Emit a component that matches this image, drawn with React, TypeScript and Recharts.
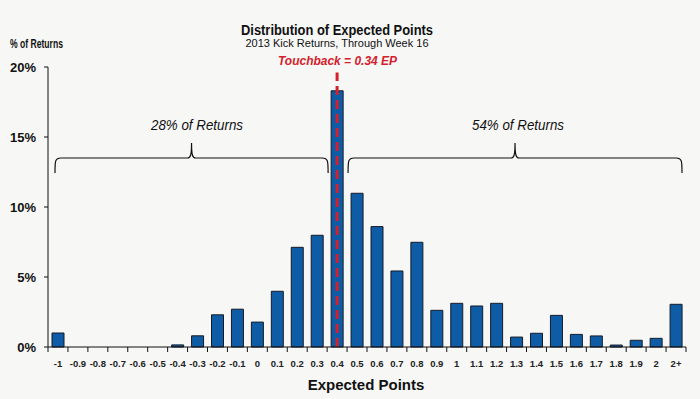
import { BarChart, Bar, XAxis, YAxis, ReferenceLine, Customized } from 'recharts';

const categories = [
  '-1', '-0.9', '-0.8', '-0.7', '-0.6', '-0.5', '-0.4', '-0.3', '-0.2', '-0.1',
  '0', '0.1', '0.2', '0.3', '0.4', '0.5', '0.6', '0.7', '0.8', '0.9',
  '1', '1.1', '1.2', '1.3', '1.4', '1.5', '1.6', '1.7', '1.8', '1.9', '2', '2+',
];

const pctReturns = [
  1.0, 0, 0, 0, 0, 0, 0.15, 0.8, 2.3, 2.7,
  1.78, 3.98, 7.12, 7.98, 18.3, 10.98, 8.6, 5.43, 7.48, 2.62,
  3.12, 2.93, 3.12, 0.71, 0.98, 2.26, 0.9, 0.79, 0.14, 0.48, 0.62, 3.05,
];

const yTicks = [0, 5, 10, 15, 20];

const data = categories.map((c, i) => ({ ep: c, pct: pctReturns[i] }));

const W = 700;
const H = 399;
const PLOT_LEFT = 48;
const PLOT_RIGHT = 686;
const PLOT_BOTTOM = 347;
const BAND = (PLOT_RIGHT - PLOT_LEFT) / categories.length;
const FONT = '"Liberation Sans", Arial, sans-serif';

function XTick(props: any) {
  const { x, payload, index } = props;
  const last = index === categories.length - 1;
  return (
    <g>
      <line x1={x - BAND / 2} x2={x - BAND / 2} y1={PLOT_BOTTOM} y2={PLOT_BOTTOM + 5} stroke="#111" />
      {last && (
        <line x1={x + BAND / 2} x2={x + BAND / 2} y1={PLOT_BOTTOM} y2={PLOT_BOTTOM + 5} stroke="#111" />
      )}
      <text x={x} y={PLOT_BOTTOM + 20} textAnchor="middle" fontSize={9.5} fontWeight="bold" fill="#222" fontFamily={FONT}>
        {payload.value}
      </text>
    </g>
  );
}

// curly brace from x1 to x2, horizontal stroke at y, point up in the middle
function brace(x1: number, x2: number, y: number) {
  const mid = (x1 + x2) / 2;
  return `M${x1},${y + 15} C${x1},${y + 3} ${x1},${y} ${x1 + 6},${y} L${mid - 4},${y} C${mid - 1},${y} ${mid},${y - 3} ${mid},${y - 15} C${mid},${y - 3} ${mid + 1},${y} ${mid + 4},${y} L${x2 - 6},${y} C${x2},${y} ${x2},${y + 3} ${x2},${y + 15}`;
}

function Annotations() {
  const bx = (i: number) => PLOT_LEFT + BAND * i;
  return (
    <g fontFamily={FONT}>
      <text x={241} y={35} fontSize={14.5} fontWeight="bold" fill="#111" textLength={192} lengthAdjust="spacingAndGlyphs">
        Distribution of Expected Points
      </text>
      <text x={337} y={47} textAnchor="middle" fontSize={11} fill="#111">
        2013 Kick Returns, Through Week 16
      </text>
      <text x={10} y={47.5} fontSize={12.5} fontWeight="bold" fill="#111" textLength={53} lengthAdjust="spacingAndGlyphs">
        % of Returns
      </text>
      <text x={278} y={65} fontSize={13} fontWeight="bold" fontStyle="italic" fill="#d4202b" textLength={119} lengthAdjust="spacingAndGlyphs">
        Touchback = 0.34 EP
      </text>
      <path d={brace(bx(0.35), bx(14.05), 158)} fill="none" stroke="#111" strokeWidth={1.2} />
      <path d={brace(bx(15.05), bx(31.8), 158)} fill="none" stroke="#111" strokeWidth={1.2} />
      <text x={151} y={130} fontSize={14} fontStyle="italic" fill="#111" textLength={92} lengthAdjust="spacingAndGlyphs">
        28% of Returns
      </text>
      <text x={472} y={130} fontSize={14} fontStyle="italic" fill="#111" textLength={92} lengthAdjust="spacingAndGlyphs">
        54% of Returns
      </text>
      <text x={366} y={390} textAnchor="middle" fontSize={15} fontWeight="bold" fill="#111">
        Expected Points
      </text>
    </g>
  );
}

export default function App() {
  return (
    <div style={{ position: 'absolute', left: 0, top: 0, width: W, height: H, background: '#f7f7f6' }}>
      <BarChart
        width={W}
        height={H}
        data={data}
        margin={{ top: 67, right: W - PLOT_RIGHT, left: 0, bottom: 0 }}
        barSize={12}
      >
        <XAxis
          dataKey="ep"
          interval={0}
          height={H - PLOT_BOTTOM}
          tickLine={false}
          axisLine={{ stroke: '#111' }}
          tick={<XTick />}
        />
        <YAxis
          width={PLOT_LEFT}
          domain={[0, 20]}
          ticks={yTicks}
          tickFormatter={(v: number) => `${v}%`}
          tickSize={4}
          tickMargin={8}
          axisLine={{ stroke: '#111' }}
          tickLine={{ stroke: '#111' }}
          tick={{ fontSize: 13, fontWeight: 'bold', fill: '#111', fontFamily: FONT }}
        />
        <Bar dataKey="pct" fill="#0f5ca6" stroke="#151b26" strokeWidth={1} isAnimationActive={false} />
        <ReferenceLine
          segment={[{ x: '0.4', y: 0 }, { x: '0.4', y: 19.6 }]}
          stroke="#d4202b"
          strokeWidth={3}
          strokeDasharray="9 5"
          ifOverflow="visible"
        />
        <Customized component={<Annotations />} />
      </BarChart>
    </div>
  );
}
